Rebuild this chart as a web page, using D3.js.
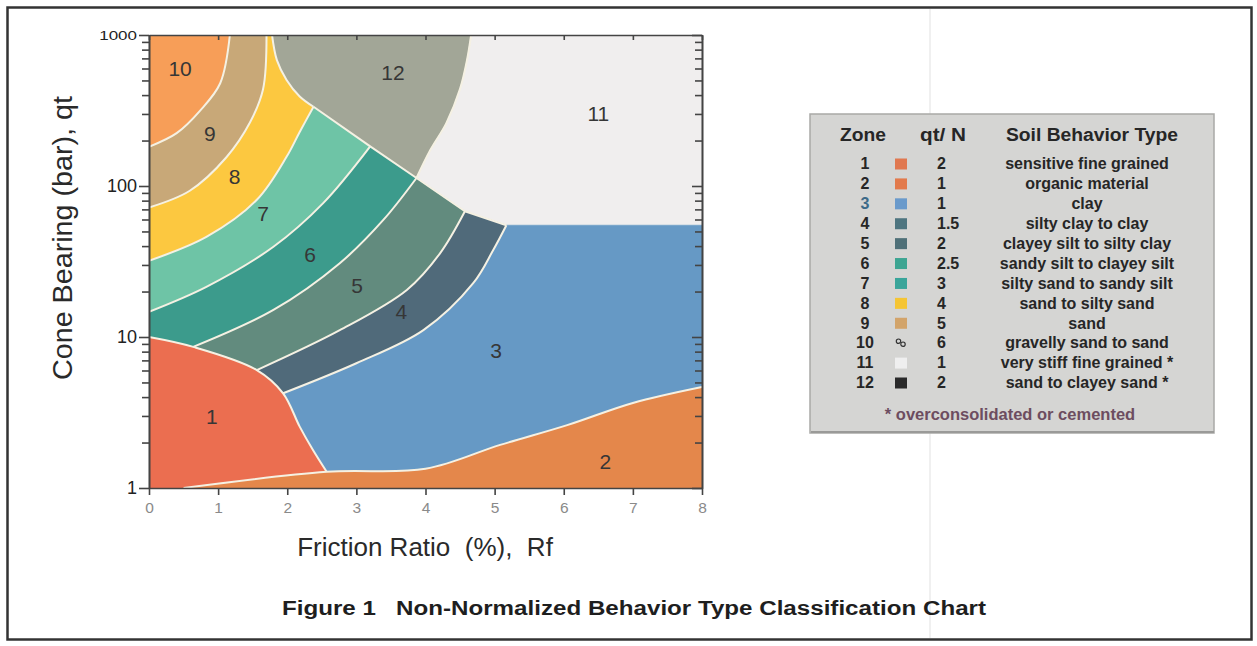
<!DOCTYPE html>
<html>
<head>
<meta charset="utf-8">
<script src="https://cdn.jsdelivr.net/npm/d3@7"></script>
<style>
  html, body { margin: 0; padding: 0; background: #fff; }
  svg { display: block; font-family: "Liberation Sans", Arial, Helvetica, sans-serif; }
</style>
</head>
<body>
<svg id="chart" width="1257" height="646"></svg>
<script>
// ---- Zone boundaries, points as [Rf (%), qt (bar)] ----
const b10_9  = [[1.17, 1000], [1.03, 479], [0.74, 316], [0.40, 224], [0, 182]];
const b9_8   = [[1.70, 1000], [1.65, 437], [1.46, 263], [1.12, 155], [0.59, 93], [0, 72]];
const b8_12  = [[1.78, 1000], [1.85, 682], [1.99, 504], [2.18, 392], [2.38, 335]];
const b8_7   = [[2.38, 335], [2.18, 228], [1.99, 156], [1.56, 81], [0.83, 46], [0, 32]];
const diagonal = [[2.38, 335], [3.20, 183], [3.87, 113], [4.57, 68], [5.17, 55]];
const b12_11 = [[3.87, 113], [4.07, 173], [4.30, 260], [4.50, 440], [4.60, 680], [4.66, 1000]];
const b7_6   = [[3.20, 183], [2.52, 77], [1.80, 39.6], [0.83, 21.5], [0, 14.7]];
const b6_5   = [[3.87, 113], [3.39, 59.6], [2.76, 30.8], [1.80, 15.1], [0.64, 8.6]];
const b5_4   = [[4.57, 68], [4.21, 35.8], [3.73, 20.5], [2.76, 11.1], [1.56, 6.04]];
const b4_3   = [[5.17, 55], [4.98, 37.7], [4.69, 22.7], [3.97, 11.1], [3.00, 6.7], [1.94, 4.24]];
const b1     = [[0, 10], [0.64, 8.6], [1.56, 6.04], [1.94, 4.24], [2.18, 2.55], [2.37, 1.79], [2.57, 1.28]];
const b2     = [[0.5, 1], [2.57, 1.28], [4.0, 1.34], [5.08, 1.93], [6.05, 2.61], [7.0, 3.66], [8, 4.67]];
const b3_11  = [[5.17, 55], [8, 55]];

// Zone number anchors [Rf, qt]
const zoneNames = ["1", "2", "3", "4", "5", "6", "7", "8", "9", "10", "11", "12"];
const zoneLabelAt = [[0.91, 3.0], [6.6, 1.49], [5.02, 8.2], [3.65, 14.8], [3.01, 22], [2.33, 35],
                     [1.65, 66], [1.24, 115], [0.88, 224], [0.45, 605], [6.5, 302], [3.53, 569]];

// Axis ticks
const xTicks = [0, 1, 2, 3, 4, 5, 6, 7, 8];
const yMajor = [1, 10, 100, 1000];
const yMinor = [2, 3, 4, 5, 6, 7, 8, 9, 20, 30, 40, 50, 60, 70, 80, 90, 200, 300, 400, 500, 600, 700, 800, 900];

// Legend table
const legendZone = ["1", "2", "3", "4", "5", "6", "7", "8", "9", "10", "11", "12"];
const legendQtN  = ["2", "1", "1", "1.5", "2", "2.5", "3", "4", "5", "6", "1", "2"];
const legendType = ["sensitive fine grained", "organic material", "clay", "silty clay to clay",
                    "clayey silt to silty clay", "sandy silt to clayey silt", "silty sand to sandy silt",
                    "sand to silty sand", "sand", "gravelly sand to sand", "very stiff fine grained *",
                    "sand to clayey sand *"];

// ---- Styles ----
const zoneFill = {
  "1": "#EB6E50", "2": "#E4874B", "3": "#6699C5", "4": "#506A7A", "5": "#628B7E", "6": "#3C9B8C",
  "7": "#6EC4A6", "8": "#FCC840", "9": "#C8A878", "10": "#F79E58", "11": "#F0EEEE", "12": "#A2A697"
};
const swatchFill = ["#E07850", "#E27A4C", "#6A9ACB", "#4E7580", "#4F7078", "#3DA592", "#3AA59A",
                    "#F5C534", "#D2A46A", null, "#EFEFEF", "#2A2A2A"];

const svg = d3.select("#chart");

// figure frame and faint scan line
svg.append("line").attr("x1", 930).attr("x2", 930).attr("y1", 9).attr("y2", 638)
  .attr("stroke", "#ebebeb").attr("stroke-width", 1.5);
svg.append("rect").attr("x", 7.5).attr("y", 7.5).attr("width", 1244).attr("height", 632)
  .attr("fill", "none").attr("stroke", "#333").attr("stroke-width", 2.5);

const x = d3.scaleLinear().domain([0, 8]).range([149, 702]);
const y = d3.scaleLog().domain([1, 1000]).range([488, 35]);

const smooth = d3.line().x(d => x(d[0])).y(d => y(d[1])).curve(d3.curveCatmullRom.alpha(0.5));
const straight = d3.line().x(d => x(d[0])).y(d => y(d[1]));
const seg = (pts, rev) => smooth(rev ? pts.slice().reverse() : pts);
const poly = (pts, rev) => straight(rev ? pts.slice().reverse() : pts);
const shape = parts => parts.map((s, i) => i === 0 ? s : s.replace(/^M/, "L")).join("") + "Z";

// chords between junction points on the zone 1 edge (hidden under zone 1, painted later)
const chord = (i, j) => [b1[i], b1[j]];
const dg = i => diagonal.slice(i, i + 2);

svg.append("clipPath").attr("id", "plotClip")
  .append("rect").attr("x", x(0)).attr("y", y(1000)).attr("width", x(8) - x(0)).attr("height", y(1) - y(1000));

// painted in this order: zones 1 and 2 go last and cover the under-laps
const zones = [
  ["10", shape([poly([[0, 1000], [1.17, 1000]]), seg(b10_9)])],
  ["9",  shape([poly([[1.17, 1000], [1.70, 1000]]), seg(b9_8), poly([[0, 72], [0, 182]]), seg(b10_9, true)])],
  ["8",  shape([poly([[1.70, 1000], [1.78, 1000]]), seg(b8_12), seg(b8_7), poly([[0, 32], [0, 72]]), seg(b9_8, true)])],
  ["12", shape([poly([[1.78, 1000], [4.66, 1000]]), seg(b12_11, true), poly(diagonal.slice(0, 3), true), seg(b8_12, true)])],
  ["11", shape([poly([[4.66, 1000], [8, 1000], [8, 55]]), poly(b3_11, true), poly(diagonal.slice(2), true), seg(b12_11)])],
  ["7",  shape([poly(dg(0)), seg(b7_6), poly([[0, 14.7], [0, 32]]), seg(b8_7, true)])],
  ["6",  shape([poly(dg(1)), seg(b6_5), poly(chord(1, 0)), poly([[0, 10], [0, 14.7]]), seg(b7_6, true)])],
  ["5",  shape([poly(dg(2)), seg(b5_4), poly(chord(2, 1)), seg(b6_5, true)])],
  ["4",  shape([poly(dg(3)), seg(b4_3), poly(chord(3, 2)), seg(b5_4, true)])],
  ["3",  shape([seg(b4_3, true), poly([[5.17, 55], [8, 55], [8, 1], [1.2, 1], [1.2, 3.0], [1.94, 4.24]])])],
  ["1",  shape([poly([[2.57, 1], [0, 1], [0, 10]]), seg(b1)])],
  ["2",  shape([seg(b2), poly([[8, 4.67], [8, 1], [0.5, 1]])])]
];

const plot = svg.append("g").attr("clip-path", "url(#plotClip)");
plot.selectAll("path.zone").data(zones).join("path")
  .attr("class", "zone")
  .attr("d", d => d[1])
  .attr("fill", d => zoneFill[d[0]])
  .attr("stroke", d => zoneFill[d[0]]).attr("stroke-width", 0.6);

// boundary lines
const curvedEdges = [b10_9, b9_8, b8_12, b8_7, b7_6, b6_5, b5_4, b4_3, b12_11, b1, b2];
plot.selectAll("path.edge").data(curvedEdges).join("path")
  .attr("class", "edge")
  .attr("d", d => seg(d))
  .attr("fill", "none").attr("stroke", "#F5F1E3").attr("stroke-width", 2)
  .attr("stroke-linejoin", "round");
plot.append("path")
  .attr("d", poly(diagonal))
  .attr("fill", "none").attr("stroke", "#F5F1E3").attr("stroke-width", 2)
  .attr("stroke-linejoin", "round");

// zone numbers
svg.append("g").selectAll("text.zl").data(zoneNames).join("text")
  .attr("class", "zl")
  .attr("x", (d, i) => x(zoneLabelAt[i][0]))
  .attr("y", (d, i) => y(zoneLabelAt[i][1]))
  .attr("dy", "0.36em")
  .attr("text-anchor", "middle")
  .attr("font-size", 21)
  .attr("fill", "#363636")
  .text(d => d);

// ---- Axes ----
function styleAxis(g) {
  g.select(".domain").attr("stroke", "#444").attr("stroke-width", 1.6);
  g.selectAll(".tick line").attr("stroke", "#444").attr("stroke-width", 1.6);
}

// left
const gl = svg.append("g").attr("transform", "translate(149,0)")
  .call(d3.axisLeft(y).tickValues(yMajor).tickFormat(d3.format("d")).tickSize(10).tickSizeOuter(0).tickPadding(2))
  .call(styleAxis);
gl.selectAll(".tick text").attr("font-size", 18).attr("fill", "#222")
  .attr("font-family", "Liberation Sans, Arial, sans-serif");
gl.selectAll(".tick text").filter(d => d === 1000).attr("font-size", 17).attr("transform", "scale(1,0.78)");
svg.append("g").attr("transform", "translate(149,0)")
  .call(d3.axisLeft(y).tickValues(yMinor).tickFormat("").tickSize(7).tickSizeOuter(0))
  .call(styleAxis);

// right (inward ticks)
svg.append("g").attr("transform", "translate(702,0)")
  .call(d3.axisLeft(y).tickValues(yMajor).tickFormat("").tickSize(10).tickSizeOuter(0))
  .call(styleAxis);
svg.append("g").attr("transform", "translate(702,0)")
  .call(d3.axisLeft(y).tickValues(yMinor).tickFormat("").tickSize(7).tickSizeOuter(0))
  .call(styleAxis);

// bottom
const gb = svg.append("g").attr("transform", "translate(0,488)")
  .call(d3.axisBottom(x).tickValues(xTicks).tickFormat(d3.format("d")).tickSize(7).tickSizeOuter(0).tickPadding(7))
  .call(styleAxis);
gb.selectAll(".tick text").attr("font-size", 15.5).attr("fill", "#8a8a8a")
  .attr("font-family", "Liberation Sans, Arial, sans-serif");

// top (inward ticks)
svg.append("g").attr("transform", "translate(0,35)")
  .call(d3.axisBottom(x).tickValues(xTicks).tickFormat("").tickSize(5).tickSizeOuter(0))
  .call(styleAxis);

// axis titles
svg.append("text")
  .attr("x", 425).attr("y", 556)
  .attr("text-anchor", "middle").attr("font-size", 26).attr("fill", "#2a2a2a")
  .style("white-space", "pre")
  .text("Friction Ratio  (%),  Rf");

svg.append("text")
  .attr("transform", "translate(72,238) rotate(-90)")
  .attr("text-anchor", "middle").attr("font-size", 27).attr("fill", "#2a2a2a")
  .attr("textLength", 284).attr("lengthAdjust", "spacingAndGlyphs")
  .text("Cone Bearing (bar), qt");

// figure caption
svg.append("text")
  .attr("x", 634).attr("y", 615)
  .attr("text-anchor", "middle").attr("font-size", 20).attr("font-weight", "bold").attr("fill", "#1e1e1e")
  .attr("textLength", 704).attr("lengthAdjust", "spacingAndGlyphs")
  .style("white-space", "pre")
  .text("Figure 1   Non-Normalized Behavior Type Classification Chart");

// ---- Legend ----
const lg = svg.append("g");
lg.append("rect").attr("x", 810).attr("y", 114).attr("width", 404).attr("height", 319)
  .attr("fill", "#d5d5d3").attr("stroke", "#a9a9a7").attr("stroke-width", 1.5);
lg.append("line").attr("x1", 811).attr("x2", 1214).attr("y1", 432).attr("y2", 432)
  .attr("stroke", "#9a9a98").attr("stroke-width", 2);

const hdr = [["Zone", 863, 46], ["qt/ N", 943, 46], ["Soil Behavior Type", 1092, 172]];
lg.selectAll("text.hdr").data(hdr).join("text")
  .attr("class", "hdr")
  .attr("x", d => d[1]).attr("y", 141)
  .attr("text-anchor", "middle").attr("font-size", 18).attr("font-weight", "bold").attr("fill", "#262626")
  .attr("textLength", d => d[2]).attr("lengthAdjust", "spacingAndGlyphs")
  .text(d => d[0]);

const ry = d3.scalePoint().domain(legendZone).range([163.5, 382.5]);
const rows = lg.selectAll("g.row").data(legendZone).join("g")
  .attr("class", "row")
  .attr("transform", d => `translate(0,${ry(d)})`);

rows.append("text")
  .attr("x", 865).attr("dy", "0.36em").attr("text-anchor", "middle")
  .attr("font-size", 16).attr("font-weight", "bold")
  .attr("fill", d => d === "3" ? "#3d6b88" : "#262626")
  .text(d => d);

rows.append("rect")
  .attr("x", 895).attr("y", -5).attr("width", 12).attr("height", 11)
  .attr("fill", (d, i) => swatchFill[i] || "none")
  .attr("stroke", "none");

// pebble symbol for gravelly sand
const peb = lg.append("g").attr("transform", `translate(901,${ry("10")})`);
peb.append("circle").attr("cx", -2.5).attr("cy", -1.5).attr("r", 2.2).attr("fill", "none").attr("stroke", "#333").attr("stroke-width", 1.2);
peb.append("circle").attr("cx", 2).attr("cy", 1.5).attr("r", 2.2).attr("fill", "none").attr("stroke", "#333").attr("stroke-width", 1.2);

rows.append("text")
  .attr("x", 937).attr("dy", "0.36em").attr("text-anchor", "start")
  .attr("font-size", 16).attr("font-weight", "bold").attr("fill", "#262626")
  .text((d, i) => legendQtN[i]);

rows.append("text")
  .attr("x", 1087).attr("dy", "0.36em").attr("text-anchor", "middle")
  .attr("font-size", 16).attr("font-weight", "bold").attr("fill", "#262626")
  .text((d, i) => legendType[i]);

lg.append("text")
  .attr("x", 1010).attr("y", 420).attr("text-anchor", "middle")
  .attr("font-size", 16.5).attr("font-weight", "bold").attr("fill", "#6d4d60")
  .text("* overconsolidated or cemented");
</script>
</body>
</html>
